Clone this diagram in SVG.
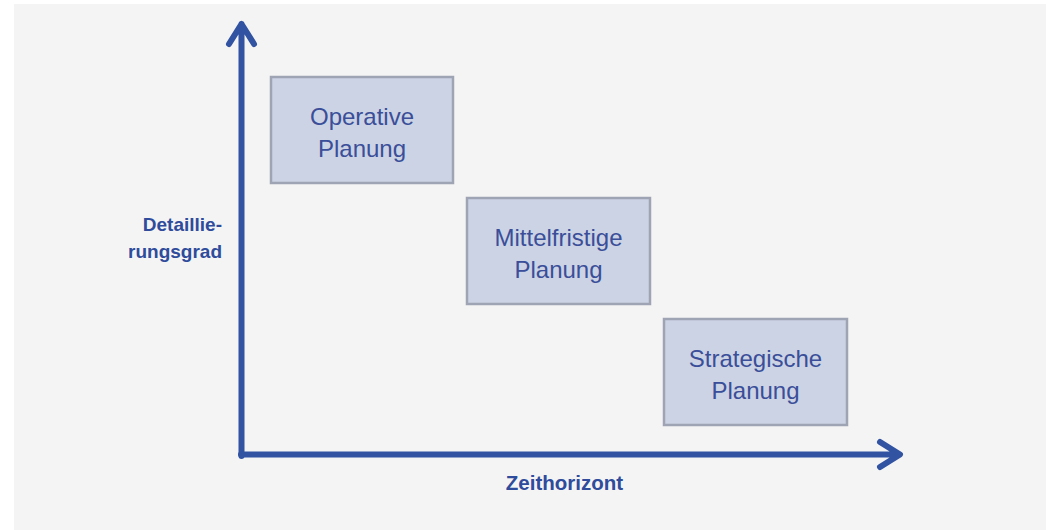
<svg xmlns="http://www.w3.org/2000/svg" width="1046" height="530" viewBox="0 0 1046 530">
  <style>
    .box rect { fill: #ccd3e4; stroke: #9ea4b3; stroke-width: 2.5; }
    .box text { font-family: "Liberation Sans", Arial, sans-serif; font-size: 24px; fill: #3a4e99; text-anchor: middle; }
    .axis { fill: none; stroke: #3153a1; stroke-width: 6; stroke-linecap: round; stroke-linejoin: round; }
    .label { font-family: "Liberation Sans", Arial, sans-serif; font-weight: bold; fill: #2f4b9b; }
  </style>

  <!-- backdrop -->
  <rect x="0" y="0" width="1046" height="530" fill="#ffffff"/>
  <rect x="14" y="4" width="1032" height="526" fill="#f4f4f4"/>

  <!-- axes -->
  <g id="connectors">
    <path class="axis" d="M241.5 456 V24 M229 44 L241.5 24 L254 44"/>
    <path class="axis" d="M241 454.5 H899 M880 442 L900 454.5 L880 467"/>
  </g>

  <g id="node-operativ" class="box">
    <rect x="271" y="77" width="182" height="106"/>
    <text x="362" y="125">Operative</text>
    <text x="362" y="157">Planung</text>
  </g>

  <g id="node-mittelfristig" class="box">
    <rect x="467" y="198" width="183" height="106"/>
    <text x="558.5" y="246">Mittelfristige</text>
    <text x="558.5" y="278">Planung</text>
  </g>

  <g id="node-strategisch" class="box">
    <rect x="664" y="319" width="183" height="106"/>
    <text x="755.5" y="367">Strategische</text>
    <text x="755.5" y="399">Planung</text>
  </g>

  <g id="label-y">
    <text class="label" x="222" y="231" font-size="19" text-anchor="end">Detaillie-</text>
    <text class="label" x="222" y="258" font-size="19" text-anchor="end">rungsgrad</text>
  </g>

  <g id="label-x">
    <text class="label" x="564.5" y="490" font-size="20.5" text-anchor="middle">Zeithorizont</text>
  </g>
</svg>
